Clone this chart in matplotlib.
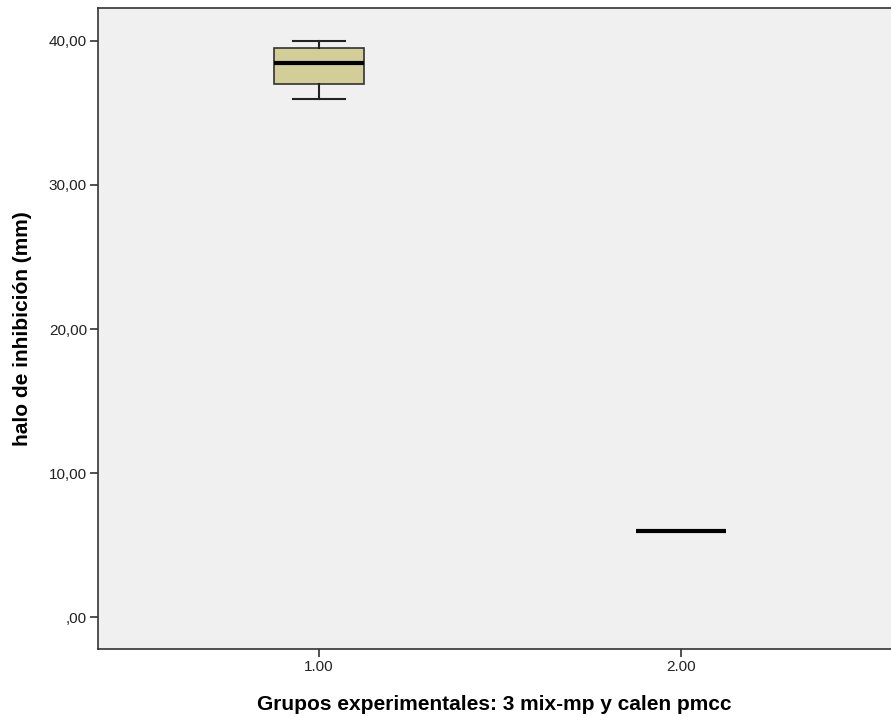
import matplotlib
matplotlib.use("Agg")
import matplotlib.pyplot as plt
from matplotlib.ticker import FuncFormatter

plt.rcParams['font.family'] = ['Liberation Sans', 'DejaVu Sans']

# Summary statistics per experimental group (inhibition halo, mm)
groups = [1.0, 2.0]
group_labels = ["1.00", "2.00"]
whisker_low = [36.0, 6.0]
q1 = [37.0, 6.0]
median = [38.5, 6.0]
q3 = [39.5, 6.0]
whisker_high = [40.0, 6.0]
y_ticks = [0, 10, 20, 30, 40]

stats = [
    dict(whislo=lo, q1=a, med=m, q3=b, whishi=hi, fliers=[])
    for lo, a, m, b, hi in zip(whisker_low, q1, median, q3, whisker_high)
]

fig = plt.figure(figsize=(8.91, 7.17), dpi=100)
ax = fig.add_axes([98 / 891, 1 - 649 / 717, 1 - 98 / 891, (649 - 8) / 717])
ax.set_facecolor('#F0F0F0')

ax.bxp(
    stats, positions=groups, widths=0.25, patch_artist=True, showfliers=False,
    boxprops=dict(facecolor='#D3CE98', edgecolor='#333333', linewidth=1.2),
    medianprops=dict(color='black', linewidth=3),
    whiskerprops=dict(color='#222222', linewidth=1.5),
    capprops=dict(color='#222222', linewidth=1.5),
    capwidths=0.145,
)

ax.set_xlim(0.39, 2.58)
ax.set_ylim(-2.22, 42.29)
ax.set_xticks(groups)
ax.set_xticklabels(group_labels)
ax.set_yticks(y_ticks)
ax.yaxis.set_major_formatter(
    FuncFormatter(lambda v, p: ",00" if v == 0 else f"{v:.2f}".replace('.', ','))
)

for side in ['left', 'bottom', 'top']:
    ax.spines[side].set_color('#333333')
    ax.spines[side].set_linewidth(1.2)
ax.spines['right'].set_visible(False)

ax.tick_params(axis='both', direction='out', length=6, width=1.2, color='#333333',
               labelsize=11, labelcolor='#222222', pad=2)

ax.set_ylabel('halo de inhibición (mm)', fontsize=15, fontweight='bold', labelpad=14)
ax.set_xlabel('Grupos experimentales: 3 mix-mp y calen pmcc', fontsize=15,
              fontweight='bold', labelpad=14)
ax.yaxis.set_label_coords(-75 / 793, 0.5)
ax.xaxis.set_label_coords(0.5, -(705 - 649) / 641)
ax.xaxis.label.set_va('center')
ax.yaxis.label.set_va('center')

fig.savefig('out.png', dpi=100)
